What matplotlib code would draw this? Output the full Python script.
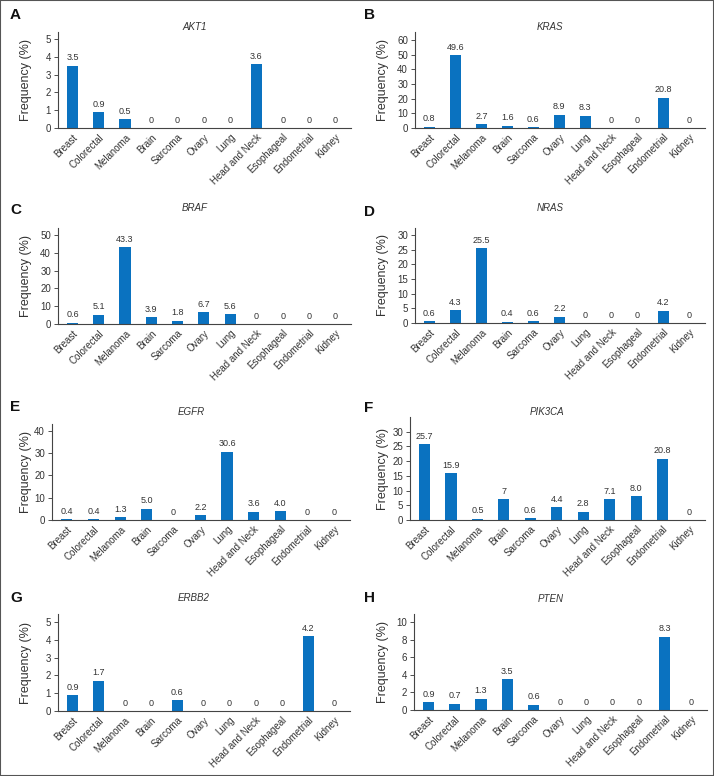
import matplotlib
matplotlib.use('Agg')
import matplotlib.pyplot as plt
from matplotlib.patches import Rectangle

plt.rcParams['font.family'] = ['Liberation Sans', 'DejaVu Sans']

################################################################################
### Data (values written as they are printed above the bars)
################################################################################

cancers = ['Breast', 'Colorectal', 'Melanoma', 'Brain', 'Sarcoma', 'Ovary',
           'Lung', 'Head and Neck', 'Esophageal', 'Endometrial', 'Kidney']

akt1 = ['3.5', '0.9', '0.5', '0', '0', '0', '0', '3.6', '0', '0', '0']
kras = ['0.8', '49.6', '2.7', '1.6', '0.6', '8.9', '8.3', '0', '0', '20.8', '0']
braf = ['0.6', '5.1', '43.3', '3.9', '1.8', '6.7', '5.6', '0', '0', '0', '0']
nras = ['0.6', '4.3', '25.5', '0.4', '0.6', '2.2', '0', '0', '0', '4.2', '0']
egfr = ['0.4', '0.4', '1.3', '5.0', '0', '2.2', '30.6', '3.6', '4.0', '0', '0']
pik3ca = ['25.7', '15.9', '0.5', '7', '0.6', '4.4', '2.8', '7.1', '8.0', '20.8', '0']
erbb2 = ['0.9', '1.7', '0', '0', '0.6', '0', '0', '0', '0', '4.2', '0']
pten = ['0.9', '0.7', '1.3', '3.5', '0.6', '0', '0', '0', '0', '8.3', '0']

genes = ['AKT1', 'KRAS', 'BRAF', 'NRAS', 'EGFR', 'PIK3CA', 'ERBB2', 'PTEN']
letters = ['A', 'B', 'C', 'D', 'E', 'F', 'G', 'H']
series = [akt1, kras, braf, nras, egfr, pik3ca, erbb2, pten]
ymax = [5.4, 65.5, 54, 32.4, 43, 35, 5.45, 10.9]
ytop = [5, 60, 50, 30, 40, 30, 5, 10]
ystep = [1, 10, 10, 5, 10, 5, 1, 2]

################################################################################
### Layout (pixels in the 714x776 figure)
################################################################################

W, H = 714, 776
# axes boxes: left, right, top, bottom
boxes = [(58, 351, 32, 128), (415, 705, 32, 128),
         (58, 351, 228, 324), (415, 705, 228, 323),
         (52, 350, 424, 520), (410, 705, 417, 520),
         (58, 350, 614, 711), (414, 707, 614, 710)]
title_y = [27, 27, 208, 208, 412, 412, 598, 599]
letter_y = [15, 15, 210, 212, 407, 408, 598, 598]

bar_color = '#0a72c0'
text_color = '#333333'
spine_color = '#444444'

fig = plt.figure(figsize=(W / 100, H / 100), dpi=100)
fig.patches.append(Rectangle((0, 0), 1, 1, transform=fig.transFigure,
                             fill=False, edgecolor='#555555', linewidth=1.5))

for k in range(8):
    l, r, t, b = boxes[k]
    ax = fig.add_axes([l / W, 1 - b / H, (r - l) / W, (b - t) / H])
    vals = [float(v) for v in series[k]]
    xs = range(len(cancers))
    ax.bar(xs, vals, width=0.42, color=bar_color)
    for x, v, s in zip(xs, vals, series[k]):
        ax.annotate(s, (x, v), xytext=(0, 2.5), textcoords='offset points',
                    ha='center', va='bottom', fontsize=6.5, color=text_color)

    ax.set_xlim(-0.55, 10.6)
    ax.set_ylim(0, ymax[k])
    ax.set_yticks(list(range(0, ytop[k] + 1, ystep[k])))
    ax.set_xticks(list(xs))
    ax.set_xticklabels(cancers, rotation=45, ha='right', rotation_mode='anchor',
                       fontsize=7, color=text_color)
    ax.tick_params(axis='x', length=0, pad=3)
    ax.tick_params(axis='y', length=3, width=0.6, pad=2, labelsize=7,
                   colors=text_color)
    for side in ['top', 'right']:
        ax.spines[side].set_visible(False)
    for side in ['left', 'bottom']:
        ax.spines[side].set_color(spine_color)
        ax.spines[side].set_linewidth(0.8)

    # y label sits at a fixed place in each column
    lab_x = 26 if k % 2 == 0 else 383
    ax.set_ylabel('Frequency (%)', fontsize=9, color=text_color)
    ax.yaxis.set_label_coords((lab_x - l) / (r - l), 0.5)
    ax.yaxis.label.set_va('center')

    fig.text(((l + r) / 2 - 10) / W, 1 - title_y[k] / H, genes[k], fontsize=7,
             style='italic', color=text_color, ha='center', va='center')

    # panel letter
    px = 10 if k % 2 == 0 else 364
    fig.text(px / W, 1 - letter_y[k] / H, letters[k], fontsize=11,
             fontweight='bold', ha='left', va='center', color='#111111')

fig.savefig('out.png', dpi=100)
